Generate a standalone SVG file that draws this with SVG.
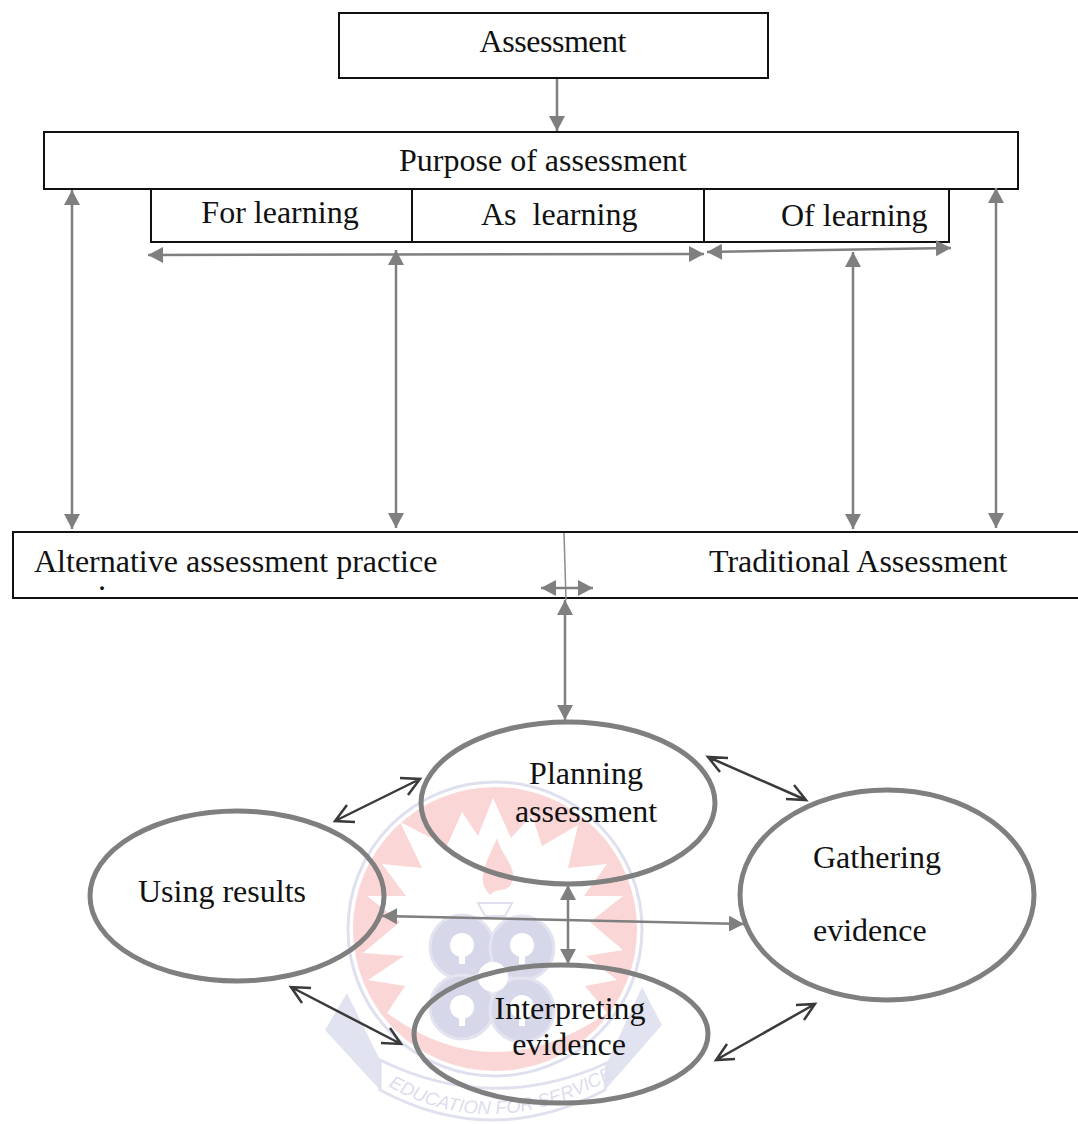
<svg xmlns="http://www.w3.org/2000/svg" width="1078" height="1124" viewBox="0 0 1078 1124">
<style>
text{font-family:"Liberation Serif","Times New Roman",serif;font-size:32px;fill:#111}
.box{fill:#fff;stroke:#111;stroke-width:2}
.el{fill:none;stroke:#7f7f7f;stroke-width:5}
.g{stroke:#7f7f7f;stroke-width:2.5;fill:none;marker-start:url(#s);marker-end:url(#e)}
.d{stroke:#3a3a3a;stroke-width:2.5;fill:none}
</style>
<defs>
<marker id="e" markerUnits="userSpaceOnUse" markerWidth="16" markerHeight="16" refX="15" refY="8" orient="auto"><path d="M0 0L15 8L0 16Z" fill="#7f7f7f"/></marker>
<marker id="s" markerUnits="userSpaceOnUse" markerWidth="16" markerHeight="16" refX="0" refY="8" orient="auto"><path d="M15 0L0 8L15 16Z" fill="#7f7f7f"/></marker>
<path id="arc" d="M388 1086Q492 1146 612 1078"/>
</defs>
<g id="watermark">
<path d="M347 993L380 1060L380 1090L325 1030ZM642 987L607 1063L605 1090L662 1025Z" fill="#e2e3f0"/>
<path d="M380 1060L380 1090Q492 1150 605 1090L607 1063Q492 1115 380 1060Z" fill="#fff" stroke="#e0e1ef" stroke-width="3"/>
<circle cx="495" cy="929" r="147" fill="#fff" stroke="#dfe0ef" stroke-width="3"/>
<circle cx="495" cy="929" r="142" fill="#fad6d7"/>
<path fill="#fff" d="M493 798L511 838L532 815L542 846L578 825L568 868L607 864L584 896L623 896L590 922L623 950L586 956L617 980L585 986L607 1013Q493 1091 387 1013L405 986L368 980L404 956L363 953L400 922L367 896L406 896L382 864L422 868L400 822L447 846L462 812L478 836Z"/>
<path fill="#fad6d7" d="M490 895C474 880 488 860 497 838C501 855 518 868 512 882C508 894 498 886 490 895Z"/>
<path d="M478 903H512L505 916H485Z" fill="#fff" stroke="#dfe0ef" stroke-width="2"/>
<g fill="#d6d7e9" stroke="#e3e4f0" stroke-width="3">
<circle cx="462" cy="947" r="32"/><circle cx="522" cy="948" r="32"/>
<circle cx="462" cy="1007" r="32"/><circle cx="522" cy="1010" r="32"/>
</g>
<circle cx="493" cy="977" r="15" fill="#fff"/>
<g fill="#fff">
<circle cx="462" cy="945" r="12"/><circle cx="522" cy="945" r="12"/><circle cx="462" cy="1007" r="12"/><circle cx="522" cy="1007" r="12"/>
<path d="M459 950h6v14h-6zM519 950h6v14h-6zM459 1012h6v14h-6zM519 1012h6v14h-6z"/>
</g>
<text style="font-family:'Liberation Sans',sans-serif;font-size:18.5px;font-style:italic;fill:#dcdded"><textPath href="#arc">EDUCATION FOR SERVICE</textPath></text>
</g>
<g id="n-assessment"><rect class="box" x="339" y="13" width="429" height="65"/><text x="553" y="52" text-anchor="middle" textLength="147">Assessment</text></g>
<g id="n-purpose"><rect class="box" x="44" y="132" width="974" height="57"/><text x="543" y="171" text-anchor="middle">Purpose of assessment</text></g>
<g id="n-for"><rect class="box" x="151" y="189" width="261" height="53"/><text x="280" y="223" text-anchor="middle">For learning</text></g>
<g id="n-as"><rect class="box" x="412" y="189" width="292" height="53"/><text x="481" y="225">As&#160; learning</text></g>
<g id="n-of"><rect class="box" x="704" y="189" width="245" height="53"/><text x="781" y="226">Of learning</text></g>
<g id="n-practice"><path class="box" d="M1078 532H13V598H1078"/><text x="34" y="572">Alternative assessment practice</text><text x="98" y="590">.</text><text x="709" y="572">Traditional Assessment</text></g>
<g id="n-planning"><ellipse class="el" cx="568" cy="803" rx="147" ry="81"/><text x="586" y="784" text-anchor="middle">Planning</text><text x="586" y="822" text-anchor="middle">assessment</text></g>
<g id="n-using"><ellipse class="el" cx="237" cy="896" rx="147" ry="85"/><text x="222" y="902" text-anchor="middle">Using results</text></g>
<g id="n-gathering"><ellipse class="el" cx="887" cy="895" rx="147" ry="105"/><text x="813" y="868">Gathering</text><text x="813" y="941">evidence</text></g>
<g id="n-interpreting"><ellipse class="el" cx="561" cy="1034" rx="147" ry="69"/><text x="570" y="1019" text-anchor="middle">Interpreting</text><text x="569" y="1055" text-anchor="middle">evidence</text></g>
<g id="connectors">
<path d="M557 79V131" stroke="#7f7f7f" stroke-width="2.500" fill="none" marker-end="url(#e)"/>
<path class="g" d="M72 190L72 529"/>
<path class="g" d="M148 255L704 254"/>
<path class="g" d="M396 250V528"/>
<path class="g" d="M707 252L951 248"/>
<path class="g" d="M853 252V529"/>
<path class="g" d="M996 188V528"/>
<path d="M564 533L566 600" stroke="#8c8c8c" stroke-width="1.500" fill="none"/>
<path class="g" d="M541 588H593"/>
<path class="g" d="M565 600V720"/>
<path class="g" d="M568 885V964"/>
<path class="g" d="M382 916L744 924"/>
<g class="d">
<path d="M335 821L420 779M400 778L420 779L408 795M355 822L335 821L347 805"/>
<path d="M708 757L806 800M728 758L708 757L720 772M786 799L806 800L794 785"/>
<path d="M291 987L401 1044M311 988L291 987L302 1003M381 1043L401 1044L390 1028"/>
<path d="M716 1060L815 1004M735 1059L716 1060L727 1044M796 1005L815 1004L804 1020"/>
</g>
</g>
</svg>
